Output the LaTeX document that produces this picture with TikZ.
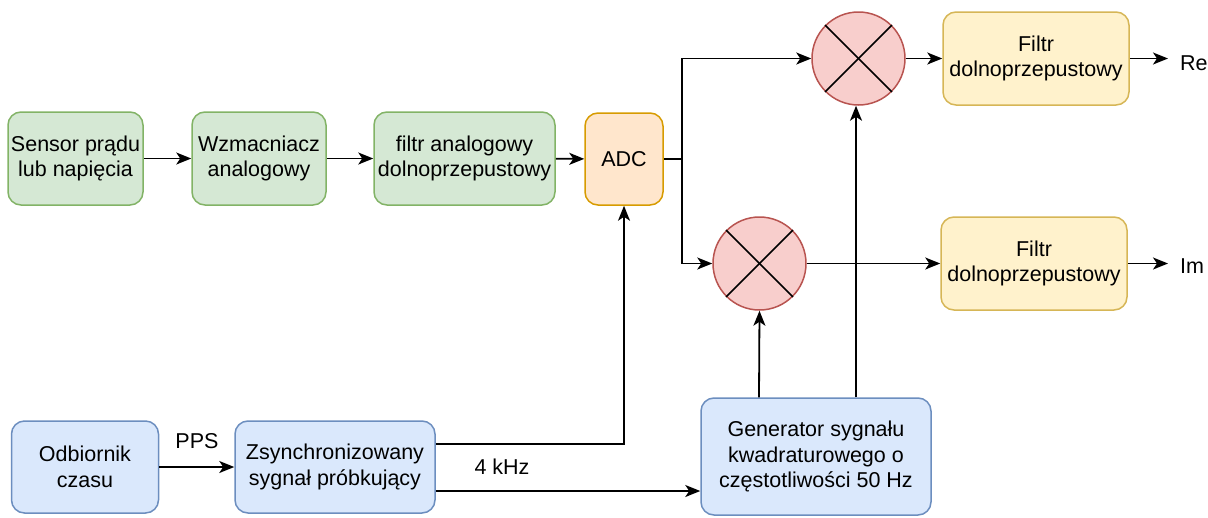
\documentclass[tikz,border=0pt]{standalone}
\usepackage{fontspec}
\setmainfont{Liberation Sans}
\usetikzlibrary{arrows.meta,calc}
\definecolor{gfill}{HTML}{D5E8D4}\definecolor{gline}{HTML}{82B366}
\definecolor{ofill}{HTML}{FFE6CC}\definecolor{oline}{HTML}{D79B00}
\definecolor{rfill}{HTML}{F8CECC}\definecolor{rline}{HTML}{B85450}
\definecolor{yfill}{HTML}{FFF2CC}\definecolor{yline}{HTML}{D6B656}
\definecolor{bfill}{HTML}{DAE8FC}\definecolor{bline}{HTML}{6C8EBF}
\tikzset{
  blk/.style={rounded corners=13pt, line width=1.5pt, inner sep=0pt, align=center,
    font=\fontsize{21.5}{25.5}\selectfont},
  green/.style={blk, fill=gfill, draw=gline},
  orange/.style={blk, fill=ofill, draw=oline},
  yellowb/.style={blk, fill=yfill, draw=yline},
  blueb/.style={blk, fill=bfill, draw=bline},
  mult/.style={circle, fill=rfill, draw=rline, line width=1.5pt, minimum size=93pt, inner sep=0pt},
  conn/.style={line width=1.8pt, -{Stealth[length=15pt,width=12pt,inset=4pt]}},
  wire/.style={line width=1.8pt},
  lbl/.style={font=\fontsize{21.5}{25}\selectfont, inner sep=0pt}
}
\begin{document}
\begin{tikzpicture}[x=1pt,y=-1pt]
\useasboundingbox (0,0) rectangle (1208,517);
% signal chain
\node[green, minimum width=135pt, minimum height=93pt] (sensor) at (75.5,158.5) {Sensor prądu\\lub napięcia};
\node[green, minimum width=134pt, minimum height=93pt] (amp) at (259,158.5) {Wzmacniacz\\analogowy};
\node[green, minimum width=181pt, minimum height=93pt] (aaf) at (464.5,158.5) {filtr analogowy\\dolnoprzepustowy};
\node[orange, minimum width=78pt, minimum height=92pt] (adc) at (624,159) {ADC};
% mixers
\node[mult] (m1) at (858.5,58.5) {};
\node[mult] (m2) at (759.5,263.5) {};
\foreach \m in {m1,m2}{
  \draw[line width=1.5pt] (\m.north west) -- (\m.south east);
  \draw[line width=1.5pt] (\m.north east) -- (\m.south west);
}
% output filters
\node[yellowb, minimum width=186pt, minimum height=93pt] (lp1) at (1036,58.5) {Filtr\\dolnoprzepustowy};
\node[yellowb, minimum width=186pt, minimum height=93pt] (lp2) at (1034,263.5) {Filtr\\dolnoprzepustowy};
\node[lbl, anchor=west] (re) at (1180,63) {Re};
\node[lbl, anchor=west] (im) at (1180,266) {Im};
% timing
\node[blueb, minimum width=147pt, minimum height=92pt] (gps) at (85,467) {Odbiornik\\czasu};
\node[blueb, minimum width=200pt, minimum height=92pt] (sync) at (335,467) {Zsynchronizowany\\sygnał próbkujący};
\node[blueb, minimum width=230pt, minimum height=117pt] (gen) at (816,456.5) {Generator sygnału\\kwadraturowego o\\częstotliwości 50 Hz};
\node[lbl] (pps) at (197,441) {PPS};
\node[lbl] (khz) at (502,467) {4 kHz};
% connectors
\draw[conn] (sensor) -- (amp);
\draw[conn] (amp) -- (aaf);
\draw[conn] (aaf) -- (adc);
\coordinate (split) at (682,159);
\draw[wire] (adc.east) -- (split);
\draw[conn] (split) |- (m1.west);
\draw[conn] (split) |- (m2.west);
\draw[conn] (m1) -- (lp1);
\draw[conn] (m2.east) -- (lp2.west);
\draw[conn] (lp1.east) -- (1168,58.5);
\draw[conn] (lp2.east) -- (1168,263.5);
\draw[conn] (gps) -- (sync);
\draw[conn] (sync.east |- 0,444) -| (adc.south);
\draw[conn] (sync.east |- 0,491) -- (gen.west |- 0,491);
\draw[conn] (gen.north -| 759,0) -- (m2.south);
\draw[conn] (gen.north -| 856,0) -- (m1.south -| 856,0);
\end{tikzpicture}
\end{document}
